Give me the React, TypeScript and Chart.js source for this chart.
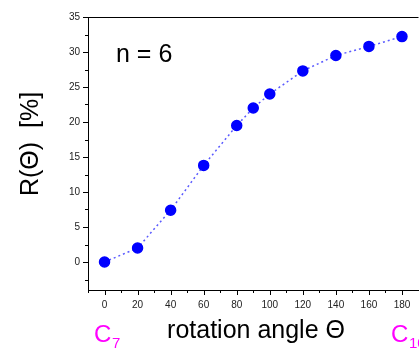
import React, { useEffect, useRef } from "react";
import { Chart, registerables } from "chart.js";

Chart.register(...registerables);

const angles = [0, 20, 40, 60, 80, 90, 100, 120, 140, 160, 180];
const rValues = [0, 2, 7.4, 13.8, 19.5, 22, 24, 27.3, 29.5, 30.8, 32.2];
const xMajorTicks = [0, 20, 40, 60, 80, 100, 120, 140, 160, 180];
const yMajorTicks = [0, 5, 10, 15, 20, 25, 30, 35];
const xMinorTicks = [-10, 10, 30, 50, 70, 90, 110, 130, 150, 170, 190];
const yMinorTicks = [-2.5, 2.5, 7.5, 12.5, 17.5, 22.5, 27.5, 32.5];
const yTitle = "R(Θ)  [%]";
const xTitle = "rotation angle Θ";
const annotation = "n = 6";

const FONT = "Arial, 'Liberation Sans', Helvetica, sans-serif";

const decorPlugin = {
  id: "decor",
  afterDraw(chart: any) {
    const ctx = chart.ctx;
    const { left, right, top, bottom } = chart.chartArea;
    const xs = chart.scales.x;
    const ys = chart.scales.y;
    ctx.save();
    ctx.strokeStyle = "#000";
    ctx.lineWidth = 1;
    // top frame
    ctx.beginPath();
    ctx.moveTo(left, top + 0.5);
    ctx.lineTo(right, top + 0.5);
    ctx.stroke();
    // tick marks
    ctx.beginPath();
    yMajorTicks.forEach((v) => {
      const p = Math.round(ys.getPixelForValue(v)) + 0.5;
      ctx.moveTo(left - 5, p);
      ctx.lineTo(left, p);
    });
    yMinorTicks.forEach((v) => {
      const p = Math.round(ys.getPixelForValue(v)) + 0.5;
      ctx.moveTo(left - 3, p);
      ctx.lineTo(left, p);
    });
    xMajorTicks.forEach((v) => {
      const p = Math.round(xs.getPixelForValue(v)) + 0.5;
      ctx.moveTo(p, bottom);
      ctx.lineTo(p, bottom + 5);
    });
    xMinorTicks.forEach((v) => {
      const p = Math.round(xs.getPixelForValue(v)) + 0.5;
      ctx.moveTo(p, bottom);
      ctx.lineTo(p, bottom + 3);
    });
    ctx.stroke();

    // titles
    ctx.fillStyle = "#000";
    ctx.font = `25px ${FONT}`;
    ctx.textAlign = "center";
    ctx.textBaseline = "middle";
    ctx.save();
    ctx.translate(31, 144);
    ctx.rotate(-Math.PI / 2);
    ctx.fillText(yTitle, 0, 0);
    ctx.restore();
    ctx.fillText(xTitle, 256, 331);

    ctx.textAlign = "left";
    ctx.fillText(annotation, 116, 55);

    // C7 and C10
    ctx.fillStyle = "#ff00ff";
    ctx.textBaseline = "alphabetic";
    ctx.font = `24px ${FONT}`;
    ctx.fillText("C", 94, 342);
    ctx.font = `15px ${FONT}`;
    ctx.fillText("7", 112, 348);
    ctx.font = `24px ${FONT}`;
    ctx.fillText("C", 391, 342);
    ctx.font = `15px ${FONT}`;
    ctx.fillText("10", 409, 348);
    ctx.restore();
  },
};

export default function App() {
  const ref = useRef<HTMLCanvasElement>(null);
  useEffect(() => {
    if (!ref.current) return;
    const chart = new Chart(ref.current, {
      type: "line",
      data: {
        datasets: [
          {
            data: angles.map((a, i) => ({ x: a, y: rValues[i] })),
            borderColor: "#5a5aff",
            borderWidth: 1.5,
            borderDash: [2, 3],
            pointBackgroundColor: "#0000ff",
            pointBorderColor: "#0000ff",
            pointRadius: 5,
            tension: 0,
          },
        ],
      },
      options: {
        animation: false,
        responsive: false,
        devicePixelRatio: 1,
        layout: { padding: { top: 17, right: 5, left: 0, bottom: 0 } },
        plugins: { legend: { display: false }, tooltip: { enabled: false } },
        scales: {
          x: {
            type: "linear",
            min: -10,
            max: 190,
            afterFit: (s: any) => {
              s.height = 60;
            },
            afterBuildTicks: (s: any) => {
              s.ticks = xMajorTicks.map((v) => ({ value: v }));
            },
            grid: { display: false, drawTicks: false },
            border: { display: true, color: "#000", width: 1 },
            ticks: {
              autoSkip: false,
              maxRotation: 0,
              padding: 9,
              color: "#222",
              font: { size: 10, family: FONT },
              callback: (v: any) => String(v),
            },
          },
          y: {
            type: "linear",
            min: -4,
            max: 35,
            afterFit: (s: any) => {
              s.width = 88;
            },
            afterBuildTicks: (s: any) => {
              s.ticks = yMajorTicks.map((v) => ({ value: v }));
            },
            grid: { display: false, drawTicks: false },
            border: { display: true, color: "#000", width: 1 },
            ticks: {
              autoSkip: false,
              padding: 8,
              color: "#222",
              font: { size: 10, family: FONT },
              callback: (v: any) => String(v),
            },
          },
        },
      },
      plugins: [decorPlugin],
    });
    return () => chart.destroy();
  }, []);
  return (
    <div
      style={{
        position: "absolute",
        left: 0,
        top: 0,
        width: 419,
        height: 350,
        overflow: "hidden",
        background: "#fff",
      }}
    >
      <canvas ref={ref} width={425} height={350} style={{ display: "block" }} />
    </div>
  );
}
